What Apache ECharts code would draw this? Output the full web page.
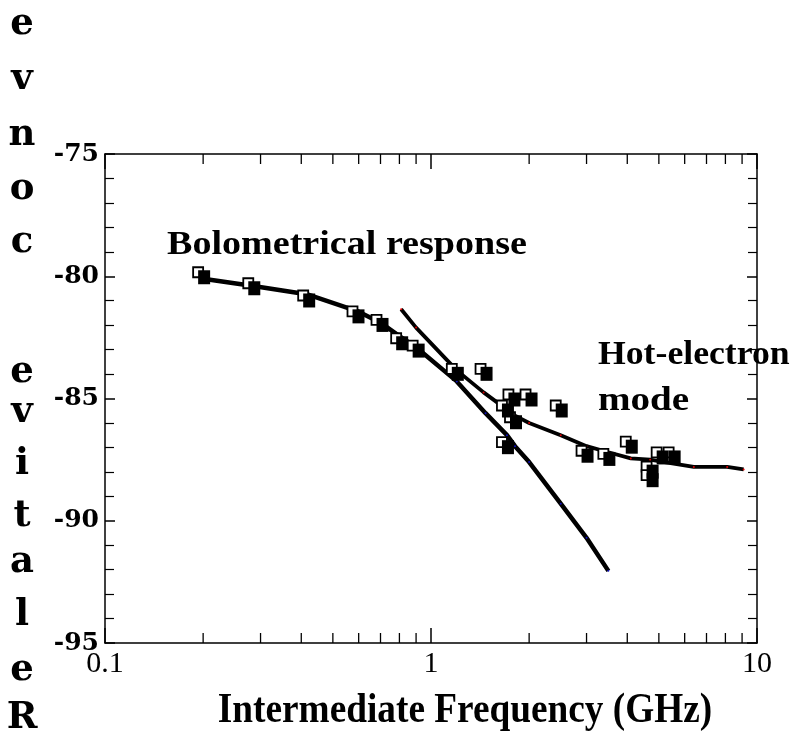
<!DOCTYPE html>
<html>
<head>
<meta charset="utf-8">
<script src="https://cdn.jsdelivr.net/npm/echarts@6/dist/echarts.min.js"></script>
<style>html,body{margin:0;padding:0;background:#fff}#c{width:798px;height:736px}</style>
</head>
<body>
<div id="c"></div>
<script>
// ---- data ----
const yTickLabels = [-95, -90, -85, -80, -75];
const xMinorTicks = [0.2,0.3,0.4,0.5,0.6,0.7,0.8,0.9,2,3,4,5,6,7,8,9];
const bolometricLine = [[0.2,-80.1],[0.285,-80.4],[0.42,-80.75],[0.6,-81.45],[0.7,-81.9],[0.8,-82.45],[0.9,-82.9],[1.2,-84.3],[1.47,-85.6],[1.71,-86.5],[1.81,-86.95],[2.0,-87.6],[2.5,-89.3],[3.0,-90.7],[3.5,-92.05]];
const hotElectronLine = [[0.81,-81.35],[0.9,-82.1],[1.2,-83.85],[1.45,-84.75],[1.63,-85.25],[1.81,-85.7],[2.0,-86.0],[2.5,-86.5],[3.0,-86.95],[3.5,-87.2],[4.1,-87.45],[4.7,-87.5],[5.2,-87.6],[6.4,-87.8],[8.1,-87.8],[9.1,-87.9]];
const measured = [[0.2,-80.0],[0.285,-80.45],[0.42,-80.95],[0.595,-81.6],[0.705,-81.95],[0.81,-82.7],[0.91,-83.0],[1.2,-83.95],[1.47,-83.95],[1.79,-85.0],[2.02,-85.0],[1.71,-85.45],[1.81,-85.93],[1.71,-86.95],[2.5,-85.45],[3.0,-87.3],[3.5,-87.43],[4.1,-86.93],[4.75,-87.95],[4.75,-88.3],[5.1,-87.37],[5.55,-87.37]];
const yTitle = 'Relative conve';
const xTitle = 'Intermediate Frequency (GHz)';

// vertical positions of the stacked y-title letters (top to bottom) - layout only
const yLetterRows = [24, 79, 135, 189, 242, null, 372, 412, 464, 516, 562, 615, 670, 718];

const chart = echarts.init(document.getElementById('c'), null, {renderer:'canvas'});
const serif = '"Liberation Serif","Times New Roman",serif';
const wideSerif = '"DejaVu Serif",serif';

const letters = yTitle.split('').reverse();
const letterGraphics = [];
letters.forEach((c, i) => {
  if (c === ' ' || yLetterRows[i] == null) return;
  letterGraphics.push({type:'text', x:22, y:yLetterRows[i],
    style:{text:c, fill:'#000', font:'bold 37px '+wideSerif, textAlign:'center', textVerticalAlign:'middle'}});
});

const axisCommon = {
  axisLine:{show:true,lineStyle:{color:'#000',width:1.5}},
  splitLine:{show:false}
};

chart.setOption({
  animation:false,
  backgroundColor:'#fff',
  grid:{left:105,right:41,top:154,bottom:93,containLabel:false},
  xAxis:[
    Object.assign({type:'log',logBase:10,min:0.1,max:10,position:'bottom',
      axisTick:{show:true,inside:true,length:15,lineStyle:{color:'#000',width:1.5}},
      axisLabel:{show:true,color:'#000',fontFamily:serif,fontSize:30,margin:6,
        formatter:v=>String(v)}},axisCommon),
    Object.assign({type:'log',logBase:10,min:0.1,max:10,position:'top',
      axisTick:{show:true,inside:true,length:15,lineStyle:{color:'#000',width:1.5}},
      axisLabel:{show:false}},axisCommon)
  ],
  yAxis:[
    Object.assign({type:'value',min:yTickLabels[0],max:yTickLabels[yTickLabels.length-1],interval:5,position:'left',
      axisTick:{show:true,inside:true,length:10,lineStyle:{color:'#000',width:1.5}},
      minorTick:{show:true,splitNumber:5,length:9,lineStyle:{color:'#000',width:1.2}},
      axisLabel:{show:true,color:'#000',fontFamily:'DejaVu Serif',fontWeight:'bold',fontSize:25,margin:6}},axisCommon),
    Object.assign({type:'value',min:yTickLabels[0],max:yTickLabels[yTickLabels.length-1],interval:5,position:'right',
      axisTick:{show:true,inside:true,length:10,lineStyle:{color:'#000',width:1.5}},
      minorTick:{show:true,splitNumber:5,length:9,lineStyle:{color:'#000',width:1.2}},
      axisLabel:{show:false}},axisCommon)
  ],
  series:[
    {type:'custom',xAxisIndex:0,yAxisIndex:0,silent:true,z:3,
      data:xMinorTicks.map(v=>[v]),
      renderItem:function(params,api){
        const v = api.value(0);
        const b = api.coord([v,yTickLabels[0]]);
        const t = api.coord([v,yTickLabels[yTickLabels.length-1]]);
        return {type:'group',children:[
          {type:'line',shape:{x1:b[0],y1:b[1],x2:b[0],y2:b[1]-10},style:{stroke:'#000',lineWidth:1.3}},
          {type:'line',shape:{x1:t[0],y1:t[1],x2:t[0],y2:t[1]+10},style:{stroke:'#000',lineWidth:1.3}}
        ]};
      }},
    {type:'line',name:'Bolometrical',data:bolometricLine,showSymbol:true,symbol:'circle',symbolSize:2,
      itemStyle:{color:'#1010c0'},lineStyle:{color:'#000',width:4.5},z:4},
    {type:'line',name:'Hot-electron',data:hotElectronLine,showSymbol:true,symbol:'circle',symbolSize:2,
      itemStyle:{color:'#e00000'},lineStyle:{color:'#000',width:3.8},z:4},
    {type:'scatter',name:'open',data:measured,symbol:'rect',symbolSize:10,symbolOffset:[-5,-4],
      itemStyle:{color:'#fff',borderColor:'#000',borderWidth:1.8,opacity:1},z:5},
    {type:'scatter',name:'filled',data:measured,symbol:'rect',symbolSize:[12,14],symbolOffset:[1,1],
      itemStyle:{color:'#000',opacity:1},z:6}
  ],
  graphic:letterGraphics.concat([
    {type:'text',x:167,y:245,scaleX:1.12,style:{text:'Bolometrical response',fill:'#000',font:'bold 34px '+serif,
      textAlign:'left',textVerticalAlign:'middle'}},
    {type:'text',x:598,y:355,scaleX:1.05,style:{text:'Hot-electron',fill:'#000',font:'bold 34px '+serif,
      textAlign:'left',textVerticalAlign:'middle'}},
    {type:'text',x:598,y:401,scaleX:1.15,style:{text:'mode',fill:'#000',font:'bold 34px '+serif,
      textAlign:'left',textVerticalAlign:'middle'}},
    {type:'text',x:465,y:711,scaleX:1.13,scaleY:1.25,style:{text:xTitle,fill:'#000',font:'bold 33px '+serif,
      textAlign:'center',textVerticalAlign:'middle'}}
  ])
});
</script>
</body>
</html>
